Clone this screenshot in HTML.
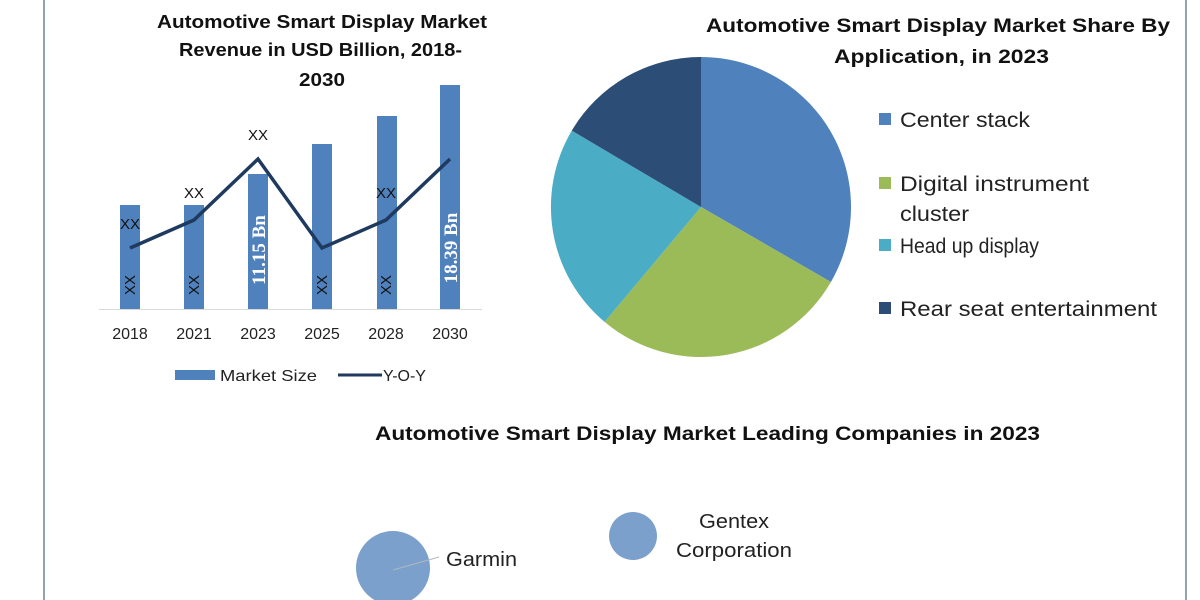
<!DOCTYPE html>
<html><head><meta charset="utf-8"><style>
body{margin:0;width:1200px;height:600px;background:#fff;overflow:hidden}
svg{display:block}
</style></head><body>
<svg width="1200" height="600" viewBox="0 0 1200 600" font-family="Liberation Sans, sans-serif">
<rect x="43" y="0" width="2" height="600" fill="#90a4ae"/>
<rect x="1185" y="0" width="2" height="600" fill="#90a4ae"/>
<g font-weight="bold" font-size="18" fill="#111">
<text x="157" y="28" textLength="330" lengthAdjust="spacingAndGlyphs">Automotive Smart Display Market</text>
<text x="179" y="56" textLength="283" lengthAdjust="spacingAndGlyphs">Revenue in USD Billion, 2018-</text>
<text x="299" y="86" textLength="46" lengthAdjust="spacingAndGlyphs">2030</text>
</g>
<g fill="#4f81bd">
<rect x="120" y="205" width="20" height="104"/>
<rect x="184" y="205" width="20" height="104"/>
<rect x="248" y="174" width="20" height="135"/>
<rect x="312" y="144" width="20" height="165"/>
<rect x="377" y="116" width="20" height="193"/>
<rect x="440" y="85" width="20" height="224"/>
</g>
<line x1="99" y1="309.5" x2="482" y2="309.5" stroke="#d9d9d9" stroke-width="1"/>
<polyline points="130,248 194,220 258,159 322,248 386,220 450,159" fill="none" stroke="#1f3a5f" stroke-width="3.5"/>
<g font-size="15" text-anchor="middle" fill="#111">
<text x="130" y="229">XX</text>
<text x="194" y="198">XX</text>
<text x="258" y="140">XX</text>
<text x="386" y="198">XX</text>
<text transform="translate(135,285) rotate(-90)">XX</text>
<text transform="translate(199,285) rotate(-90)">XX</text>
<text transform="translate(327,285) rotate(-90)">XX</text>
<text transform="translate(391,285) rotate(-90)">XX</text>
</g>
<g font-size="19" font-family="Liberation Serif, serif" fill="#fff" text-anchor="middle" font-weight="bold">
<text transform="translate(265,250) rotate(-90)">11.15 Bn</text>
<text transform="translate(457,248) rotate(-90)">18.39 Bn</text>
</g>
<g font-size="16" text-anchor="middle" fill="#222">
<text x="130" y="339">2018</text>
<text x="194" y="339">2021</text>
<text x="258" y="339">2023</text>
<text x="322" y="339">2025</text>
<text x="386" y="339">2028</text>
<text x="450" y="339">2030</text>
</g>
<rect x="175" y="370" width="40" height="10" fill="#4f81bd"/>
<text x="220" y="381" font-size="16" fill="#222" textLength="97" lengthAdjust="spacingAndGlyphs">Market Size</text>
<line x1="338" y1="375" x2="382" y2="375" stroke="#1f3a5f" stroke-width="3"/>
<text x="383" y="381" font-size="16" fill="#222">Y-O-Y</text>
<g font-weight="bold" font-size="19" fill="#111">
<text x="706" y="32" textLength="464" lengthAdjust="spacingAndGlyphs">Automotive Smart Display Market Share By</text>
<text x="834" y="63" textLength="215" lengthAdjust="spacingAndGlyphs">Application, in 2023</text>
</g>
<path d="M701,207 L701,57 A150,150 0 0 1 830.9,282 Z" fill="#4f81bd"/>
<path d="M701,207 L830.9,282 A150,150 0 0 1 604.6,321.9 Z" fill="#9bbb59"/>
<path d="M701,207 L604.6,321.9 A150,150 0 0 1 571.8,130.6 Z" fill="#4bacc6"/>
<path d="M701,207 L571.8,130.6 A150,150 0 0 1 701,57 Z" fill="#2c4d75"/>
<g font-size="21" fill="#222">
<rect x="879" y="113" width="12" height="12" fill="#4f81bd"/><text x="900" y="127" textLength="130" lengthAdjust="spacingAndGlyphs">Center stack</text>
<rect x="879" y="177" width="12" height="12" fill="#9bbb59"/><text x="900" y="191" textLength="189" lengthAdjust="spacingAndGlyphs">Digital instrument</text>
<text x="900" y="221" textLength="69" lengthAdjust="spacingAndGlyphs">cluster</text>
<rect x="879" y="239" width="12" height="12" fill="#4bacc6"/><text x="900" y="253" textLength="139" lengthAdjust="spacingAndGlyphs">Head up display</text>
<rect x="879" y="302" width="12" height="12" fill="#2c4d75"/><text x="900" y="316" textLength="257" lengthAdjust="spacingAndGlyphs">Rear seat entertainment</text>
</g>
<text x="375" y="440" font-weight="bold" font-size="19" fill="#111" textLength="665" lengthAdjust="spacingAndGlyphs">Automotive Smart Display Market Leading Companies in 2023</text>
<circle cx="393" cy="568" r="37" fill="#7aa0cb"/>
<line x1="393" y1="570" x2="439" y2="557" stroke="#b0b8c0" stroke-width="1"/>
<text x="446" y="566" font-size="20" fill="#222" textLength="71" lengthAdjust="spacingAndGlyphs">Garmin</text>
<circle cx="633" cy="536" r="24" fill="#7aa0cb"/>
<g font-size="20" fill="#222">
<text x="699" y="528" textLength="70" lengthAdjust="spacingAndGlyphs">Gentex</text>
<text x="676" y="557" textLength="116" lengthAdjust="spacingAndGlyphs">Corporation</text>
</g>
</svg>
</body></html>
